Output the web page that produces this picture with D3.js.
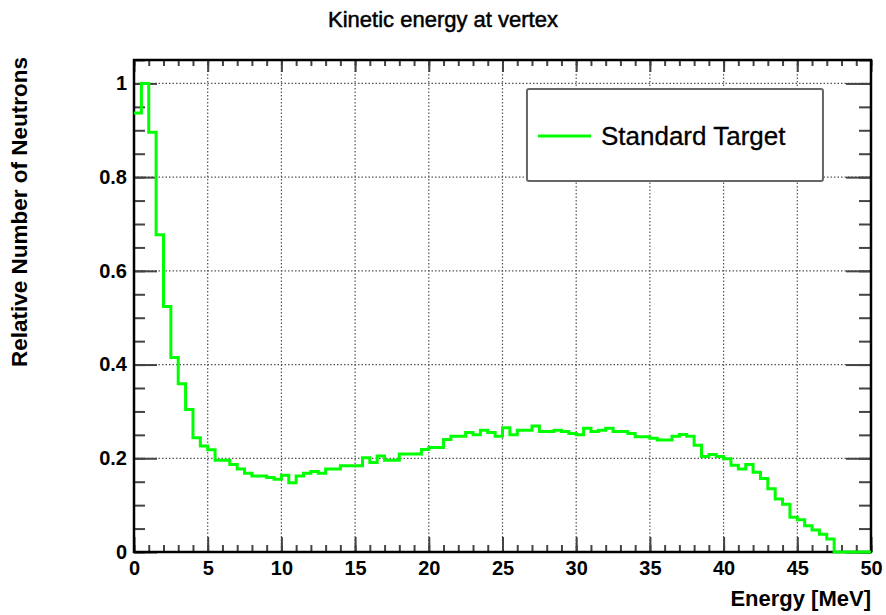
<!DOCTYPE html>
<html>
<head>
<meta charset="utf-8">
<script src="https://cdn.jsdelivr.net/npm/d3@7/dist/d3.min.js"></script>
<style>
    body { margin: 0; background: #fff; }
    svg text { font-family: "Liberation Sans", Arial, Helvetica, sans-serif; fill: #000; }
</style>
</head>
<body>
<div id="chart"></div>
<script>
// 100 bins of 0.5 MeV
const bin_width = 0.5;
const bin_lo = d3.range(0, 50, bin_width);
const rel_neutrons = [
    0.937, 1.000, 0.896, 0.677, 0.524, 0.415, 0.359, 0.304, 0.244, 0.226,
    0.218, 0.196, 0.196, 0.187, 0.177, 0.168, 0.162, 0.162, 0.159, 0.155,
    0.164, 0.148, 0.162, 0.168, 0.172, 0.168, 0.177, 0.177, 0.184, 0.184,
    0.184, 0.201, 0.191, 0.205, 0.196, 0.196, 0.209, 0.209, 0.209, 0.219,
    0.223, 0.223, 0.240, 0.247, 0.247, 0.255, 0.250, 0.260, 0.255, 0.247,
    0.265, 0.250, 0.260, 0.260, 0.269, 0.257, 0.257, 0.260, 0.257, 0.253,
    0.250, 0.264, 0.257, 0.260, 0.264, 0.257, 0.257, 0.253, 0.246, 0.246,
    0.243, 0.239, 0.239, 0.247, 0.251, 0.247, 0.228, 0.204, 0.208, 0.204,
    0.199, 0.185, 0.177, 0.187, 0.170, 0.157, 0.135, 0.113, 0.102, 0.074,
    0.069, 0.056, 0.047, 0.038, 0.028, 0.000, 0.000, 0.000, 0.000, 0.000
];
const series_name = "Standard Target";
const x_ticks = [0, 5, 10, 15, 20, 25, 30, 35, 40, 45, 50];
const x_minor = d3.range(0, 51, 1);
const y_ticks = [0, 0.2, 0.4, 0.6, 0.8, 1];
const y_tick_labels = ["0", "0.2", "0.4", "0.6", "0.8", "1"];
const y_minor = d3.range(0, 1.051, 0.05);

class Hist_chart {
    constructor(container_id) {
        this.width = 886;
        this.height = 615;
        this.margin = {top: 60, right: 15, bottom: 63, left: 134};
        this.svg = d3.select("#" + container_id)
            .append("svg")
            .attr("width", this.width)
            .attr("height", this.height);
        this.render();
    }

    render() {
        let svg = this.svg, m = this.margin;
        let w = this.width - m.left - m.right;
        let h = this.height - m.top - m.bottom;
        let g = svg.append("g").attr("transform", `translate(${m.left},${m.top})`);

        let x = d3.scaleLinear().domain([0, 50]).range([0, w]);
        let y = d3.scaleLinear().domain([0, 1.05]).range([h, 0]);

        // dotted grid at major ticks
        g.append("g").selectAll("line")
            .data(x_ticks.slice(1, -1))
            .join("line")
            .attr("x1", d => x(d)).attr("x2", d => x(d))
            .attr("y1", 0).attr("y2", h)
            .attr("stroke", "#555").attr("stroke-width", 1.2)
            .attr("stroke-dasharray", "1.5,2");
        g.append("g").selectAll("line")
            .data(y_ticks.slice(1))
            .join("line")
            .attr("x1", 0).attr("x2", w)
            .attr("y1", d => y(d)).attr("y2", d => y(d))
            .attr("stroke", "#555").attr("stroke-width", 1.2)
            .attr("stroke-dasharray", "1.5,2");

        // ticks pointing inside, on all four sides
        let tick_style = sel => {
            sel.select(".domain").remove();
            sel.selectAll(".tick line").attr("stroke", "#444").attr("stroke-width", 2);
        };
        g.append("g").attr("transform", `translate(0,${h})`)
            .call(d3.axisBottom(x).tickValues(x_minor).tickSize(-7).tickFormat(""))
            .call(tick_style);
        g.append("g").attr("transform", `translate(0,${h})`)
            .call(d3.axisBottom(x).tickValues(x_ticks).tickSize(-15).tickPadding(8).tickFormat(d3.format("d")))
            .call(tick_style)
            .selectAll("text")
            .attr("font-size", "20px").attr("font-weight", "bold").attr("dy", "0.75em");
        g.append("g")
            .call(d3.axisTop(x).tickValues(x_minor).tickSize(-6).tickFormat(""))
            .call(tick_style);
        g.append("g")
            .call(d3.axisTop(x).tickValues(x_ticks).tickSize(-12).tickFormat(""))
            .call(tick_style);

        g.append("g")
            .call(d3.axisLeft(y).tickValues(y_minor).tickSize(-11).tickFormat(""))
            .call(tick_style);
        g.append("g")
            .call(d3.axisLeft(y).tickValues(y_ticks).tickSize(-23).tickPadding(7)
                .tickFormat((d, i) => y_tick_labels[i]))
            .call(tick_style)
            .selectAll("text")
            .attr("font-size", "20px").attr("font-weight", "bold");
        g.append("g").attr("transform", `translate(${w},0)`)
            .call(d3.axisRight(y).tickValues(y_minor).tickSize(-12).tickFormat(""))
            .call(tick_style);
        g.append("g").attr("transform", `translate(${w},0)`)
            .call(d3.axisRight(y).tickValues(y_ticks).tickSize(-25).tickFormat(""))
            .call(tick_style);

        // frame
        g.append("rect")
            .attr("x", 0).attr("y", 0).attr("width", w).attr("height", h)
            .attr("fill", "none").attr("stroke", "#000").attr("stroke-width", 2.5);

        // histogram as steps
        let pts = bin_lo.map((d, i) => [d, rel_neutrons[i]]);
        pts.push([bin_lo[bin_lo.length - 1] + bin_width, rel_neutrons[rel_neutrons.length - 1]]);
        let step = d3.line()
            .x(d => x(d[0]))
            .y(d => y(d[1]))
            .curve(d3.curveStepAfter);
        g.append("path")
            .datum(pts)
            .attr("d", step)
            .attr("fill", "none")
            .attr("stroke", "#00ff00")
            .attr("stroke-width", 3);

        // legend
        let lg = g.append("g").attr("transform", `translate(${x(26.66)},${y(0.988)})`);
        lg.append("rect")
            .attr("width", 296).attr("height", 92).attr("rx", 2)
            .attr("fill", "#fff").attr("stroke", "#666").attr("stroke-width", 2);
        lg.append("line")
            .attr("x1", 11).attr("x2", 64).attr("y1", 47).attr("y2", 47)
            .attr("stroke", "#00ff00").attr("stroke-width", 3);
        lg.append("text")
            .attr("x", 74).attr("y", 56)
            .attr("font-size", "26px")
            .attr("stroke", "#000").attr("stroke-width", 0.3)
            .text(series_name);

        // titles
        svg.append("text")
            .attr("x", this.width / 2).attr("y", 27)
            .attr("text-anchor", "middle")
            .attr("font-size", "22px")
            .attr("stroke", "#000").attr("stroke-width", 0.5)
            .text("Kinetic energy at vertex");
        svg.append("text")
            .attr("x", m.left + w).attr("y", 606)
            .attr("text-anchor", "end")
            .attr("font-size", "22px").attr("font-weight", "bold")
            .text("Energy [MeV]");
        svg.append("text")
            .attr("transform", `translate(27,${m.top - 3}) rotate(-90)`)
            .attr("text-anchor", "end")
            .attr("font-size", "22.5px").attr("font-weight", "bold")
            .text("Relative Number of Neutrons");
    }
}

new Hist_chart("chart");
</script>
</body>
</html>
